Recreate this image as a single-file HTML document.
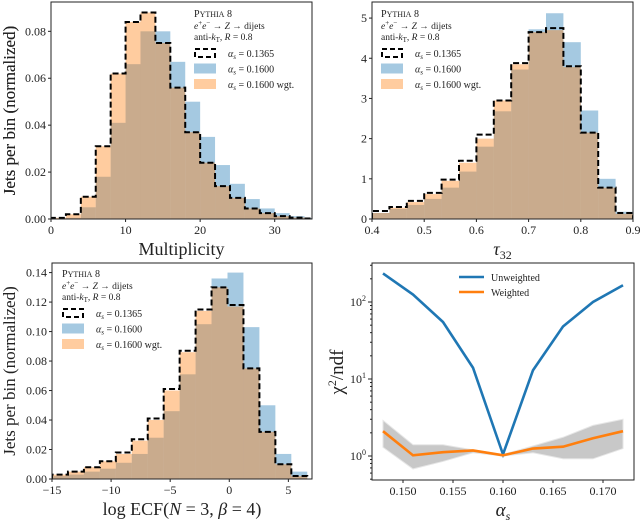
<!DOCTYPE html>
<html><head><meta charset="utf-8"><style>
body{margin:0;background:#fff}
svg{display:block;font-family:"Liberation Serif",serif}
</style></head><body>
<svg id="s" width="640" height="522" viewBox="0 0 640 522"></svg>
<script>
// ---- data ----
const p1Edges0=0, p1Width=2;
const p1Ref=[0.0005,0.002,0.0095,0.031,0.062,0.084,0.088,0.075,0.056,0.037,0.024,0.014,0.009,0.0045,0.0025,0.0012,0.0006,0.0002];
const p1Blue=[0,0.0005,0.005,0.018,0.041,0.066,0.080,0.080,0.067,0.050,0.035,0.023,0.015,0.0085,0.0045,0.0025,0.0012,0.0004];
const p1Wgt=[0.0005,0.002,0.0095,0.031,0.062,0.084,0.088,0.075,0.056,0.037,0.024,0.014,0.009,0.0045,0.0025,0.0012,0.0006,0.0002];
const p1XTicks=[0,10,20,30], p1YTicks=[0,0.02,0.04,0.06,0.08];
const p2Ref=[0.2,0.3,0.45,0.65,0.98,1.45,2.1,2.95,3.88,4.65,4.75,3.8,2.15,0.78,0.15];
const p2Blue=[0.15,0.25,0.35,0.5,0.78,1.18,1.8,2.68,3.72,4.72,5.12,4.4,2.7,1.0,0.18];
const p2Wgt=[0.15,0.28,0.42,0.62,0.95,1.4,2.0,2.95,3.85,4.65,4.7,3.78,2.15,0.78,0.13];
const p2XTicks=[0.4,0.5,0.6,0.7,0.8,0.9], p2YTicks=[0,1,2,3,4,5];
const p3Ref=[0.003,0.005,0.008,0.012,0.018,0.027,0.041,0.061,0.087,0.115,0.130,0.118,0.075,0.032,0.010,0.002];
const p3Blue=[0.002,0.003,0.005,0.007,0.011,0.017,0.028,0.046,0.071,0.105,0.136,0.140,0.103,0.050,0.017,0.005];
const p3Wgt=[0.003,0.005,0.008,0.012,0.017,0.026,0.040,0.060,0.086,0.114,0.130,0.117,0.075,0.032,0.010,0.002];
const p3XTicks=[-15,-10,-5,0,5], p3YTicks=[0,0.02,0.04,0.06,0.08,0.10,0.12,0.14];
const p4Alpha=[0.148,0.151,0.154,0.157,0.160,0.163,0.166,0.169,0.172];
const p4Unw=[235,125,55,14,1.05,13,48,100,165];
const p4Wgt=[2.1,1.02,1.12,1.18,1.02,1.25,1.32,1.7,2.1];
const p4Hi=[2.9,1.4,1.4,1.2,1.05,1.35,1.75,2.5,3.0];
const p4Lo=[1.3,0.68,0.85,1.1,1.0,1.1,0.92,0.92,1.25];
const p4XTicks=[0.150,0.155,0.160,0.165,0.170];

const NS="http://www.w3.org/2000/svg", S=document.getElementById('s');
function el(t,a,p){const e=document.createElementNS(NS,t);for(const k in a)e.setAttribute(k,a[k]);(p||S).appendChild(e);return e;}
function txt(x,y,s,a,p){const e=el('text',Object.assign({x:x,y:y,'font-size':12,fill:'#222'},a||{}),p);e.innerHTML=s;return e;}
function lin(d0,d1,r0,r1){return v=>r0+(v-d0)*(r1-r0)/(d1-d0);}

function frame(g,L,T,R,B){el('rect',{x:L,y:T,width:R-L,height:B-T,fill:'none',stroke:'#222','stroke-width':1},g);}

function histPanel(o){
  const g=el('g',{});
  
  
  const X=lin(o.x0,o.x1,o.L,o.R), Y=lin(0,o.ymax,o.B,o.T);
  const n=o.ref.length;
  const cp=el('clipPath',{id:o.name+'-clip'},g);el('rect',{x:o.L,y:o.T,width:o.R-o.L,height:o.B-o.T},cp);
  const hg=el('g',{'clip-path':'url(#'+o.name+'-clip)'},g);
  [[o.blue,'rgba(31,119,180,0.4)','bar-blue'],[o.wgt,'rgba(255,127,14,0.4)','bar-weighted']].forEach(([arr,c,nm])=>{
    arr.forEach((v,i)=>{const xa=X(o.e0+i*o.w),xb=X(o.e0+(i+1)*o.w);
      const r=el('rect',{x:xa,y:Y(v),width:xb-xa,height:o.B-Y(v),fill:c},hg);
      
      });
  });
  let d='M'+X(o.e0)+','+o.B;
  o.ref.forEach((v,i)=>{d+=' L'+X(o.e0+i*o.w)+','+Y(v)+' L'+X(o.e0+(i+1)*o.w)+','+Y(v);});
  d+=' L'+X(o.e0+n*o.w)+','+o.B;
  const p=el('path',{d:d,fill:'none',stroke:'#000','stroke-width':2,'stroke-dasharray':'6,3'},hg);
  
  
  frame(g,o.L,o.T,o.R,o.B);
  o.xt.forEach(v=>{const x=X(v);el('line',{x1:x,x2:x,y1:o.B,y2:o.B+3,stroke:'#222'},g);
    const t=txt(x,o.B+15,(v<0?'−'+(-v):o.xfmt(v)),{'text-anchor':'middle'},g);
    });
  o.yt.forEach(v=>{const y=Y(v);el('line',{x1:o.L-3,x2:o.L,y1:y,y2:y,stroke:'#222'},g);
    const t=txt(o.L-5,y+4,o.yfmt(v),{'text-anchor':'end'},g);
    });
  const xl=txt((o.L+o.R)/2,o.B+36,o.xlabel,{'text-anchor':'middle','font-size':18},g);
  
  const yc=(o.T+o.B)/2;
  const yl=txt(15,yc,'Jets per bin (normalized)',{'text-anchor':'middle','font-size':17,transform:'rotate(-90 15 '+yc+')'},g);
  
  const lx=o.lx, ly=o.ly;
  const lg=el('g',{},g);
  txt(lx,ly,'P<tspan font-size="8">YTHIA</tspan> 8',{'font-size':10},lg);
  txt(lx,ly+12,'<tspan font-style="italic">e</tspan><tspan font-size="7" dy="-4">+</tspan><tspan font-style="italic" dy="4">e</tspan><tspan font-size="7" dy="-4">−</tspan><tspan dy="4"> → </tspan><tspan font-style="italic">Z</tspan> → dijets',{'font-size':9.5},lg);
  txt(lx,ly+23,'anti-<tspan font-style="italic">k</tspan><tspan font-size="7" dy="2">T</tspan><tspan dy="-2">, </tspan><tspan font-style="italic">R</tspan> = 0.8',{'font-size':9.5},lg);
  const rows=[['0.1365',null],['0.1600','rgba(31,119,180,0.4)'],['0.1600 wgt.','rgba(255,127,14,0.4)']];
  rows.forEach(([lab,c],i)=>{const y=ly+36+i*15.5;
    if(c) el('rect',{x:lx,y:y-5,width:22,height:10,fill:c},lg);
    else el('rect',{x:lx+1,y:y-4,width:20,height:8,fill:'none',stroke:'#000','stroke-width':2,'stroke-dasharray':'5,3'},lg);
    const t=txt(lx+34,y+4,'<tspan font-style="italic">α</tspan><tspan font-size="7" font-style="italic" dy="2">s</tspan><tspan dy="-2"> = '+lab+'</tspan>',{'font-size':10},lg);
    
  });
}

histPanel({name:'multiplicity-panel',L:51,R:312,T:2,B:219,x0:0,x1:35,ymax:0.0925,e0:p1Edges0,w:p1Width,
  ref:p1Ref,blue:p1Blue,wgt:p1Wgt,xt:p1XTicks,yt:p1YTicks,xfmt:v=>v,yfmt:v=>v.toFixed(2),xlabel:'Multiplicity',lx:194,ly:17});
histPanel({name:'tau32-panel',L:372,R:633,T:2,B:219,x0:0.4,x1:0.9,ymax:5.4,e0:0.4,w:1/30,
  ref:p2Ref,blue:p2Blue,wgt:p2Wgt,xt:p2XTicks,yt:p2YTicks,xfmt:v=>v.toFixed(1),yfmt:v=>v,xlabel:'<tspan font-style="italic">τ</tspan><tspan font-size="12" dy="4">32</tspan>',lx:381,ly:17});
histPanel({name:'ecf-panel',L:52,R:312,T:263,B:479,x0:-15,x1:7,ymax:0.1465,e0:-15,w:1.35,
  ref:p3Ref,blue:p3Blue,wgt:p3Wgt,xt:p3XTicks,yt:p3YTicks,xfmt:v=>v,yfmt:v=>v.toFixed(2),xlabel:'log ECF(<tspan font-style="italic">N</tspan> = 3, <tspan font-style="italic">β</tspan> = 4)',lx:62,ly:277});

(function(){
  const L=372,R=634,T=263,B=480;
  const g=el('g',{});
  const X=lin(0.1469,0.1731,L,R);
  const Y=v=>456-77*Math.log10(v);
  let d='';p4Alpha.forEach((a,i)=>d+=(i?'L':'M')+X(a)+','+Y(p4Hi[i]));
  for(let i=p4Alpha.length-1;i>=0;i--)d+='L'+X(p4Alpha[i])+','+Y(p4Lo[i]);
  const band=el('path',{d:d+'Z',fill:'#c8c8c8',stroke:'#e6e6e6','stroke-width':1},g);
  
  const mk=(arr,c,nm)=>{let p='';p4Alpha.forEach((a,i)=>p+=(i?'L':'M')+X(a)+','+Y(arr[i]));
    const e=el('path',{d:p,fill:'none',stroke:c,'stroke-width':2.6},g);
    };
  mk(p4Unw,'#1f77b4','unweighted-line');mk(p4Wgt,'#ff7f0e','weighted-line');
  frame(g,L,T,R,B);
  p4XTicks.forEach(v=>{const x=X(v);el('line',{x1:x,x2:x,y1:B,y2:B+3,stroke:'#222'},g);
    const t=txt(x,B+15,v.toFixed(3),{'text-anchor':'middle'},g);});
  [0,1,2].forEach(e=>{const y=Y(Math.pow(10,e));el('line',{x1:L-4,x2:L,y1:y,y2:y,stroke:'#222'},g);
    const t=txt(L-6,y+4,'10<tspan font-size="8" dy="-5">'+e+'</tspan>',{'text-anchor':'end'},g);});
  for(let e=-1;e<=2;e++)for(let m=2;m<=9;m++){const y=Y(m*Math.pow(10,e));if(y>T&&y<B)el('line',{x1:L-2,x2:L,y1:y,y2:y,stroke:'#222'},g);}
  const xl=txt((L+R)/2,B+36,'<tspan font-style="italic">α</tspan><tspan font-size="12" font-style="italic" dy="4">s</tspan>',{'text-anchor':'middle','font-size':19},g);
  
  const yl=txt(343,372,'χ<tspan font-size="12" dy="-7">2</tspan><tspan dy="7">/ndf</tspan>',{'text-anchor':'middle','font-size':19,transform:'rotate(-90 343 372)'},g);
  
  const lg=el('g',{},g);
  [['Unweighted','#1f77b4',277],['Weighted','#ff7f0e',292]].forEach(([l,c,y])=>{
    el('line',{x1:459,x2:484,y1:y,y2:y,stroke:c,'stroke-width':2.6},lg);
    const t=txt(491,y+4,l,{'font-size':10},lg);});
})();
</script>
</body></html>
